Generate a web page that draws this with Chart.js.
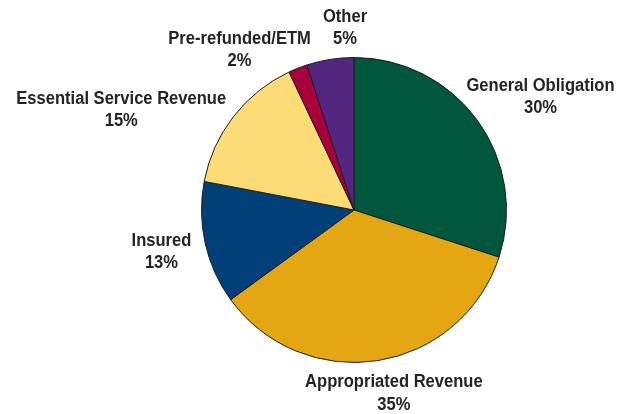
<!DOCTYPE html>
<html>
<head>
<meta charset="utf-8">
<script src="https://cdn.jsdelivr.net/npm/chart.js@4/dist/chart.umd.min.js"></script>
<style>
  html, body { margin: 0; padding: 0; background: #fff; }
  #wrap { position: relative; width: 629px; height: 414px; }
</style>
</head>
<body>
<div id="wrap"><canvas id="pie"></canvas></div>
<script>
// Portfolio composition by sector, clockwise from 12 o'clock.
const sectors = ['General Obligation', 'Appropriated Revenue', 'Insured',
  'Essential Service Revenue', 'Pre-refunded/ETM', 'Other'];
const shares = [30, 35, 13, 15, 2, 5];
const sliceColors = ['#00573c', '#e5a614', '#003f78', '#fddc77', '#a8003a', '#52257f'];

// Label placement: distance from centre (px) and angle nudge (deg) per slice.
const labelDist = [219.2, 185.8, 196.7, 254.2, 198.5, 184.2];
const labelTurn = [4.3, -3.4, 0.8, -14.1, -13.6, 6.2];

const FONT = 'bold 18px "Liberation Sans", Arial, sans-serif';
const SQUEEZE = 0.92; // narrow the face horizontally for a condensed look
const HALF_LINE = 11.15;
const DROP = 2; // 'middle' baseline sits a little above the cap centre

const sliceLabels = {
  id: 'sliceLabels',
  afterDatasetsDraw(chart) {
    const { ctx } = chart;
    const arcs = chart.getDatasetMeta(0).data;
    arcs.forEach((arc, i) => {
      const mid = (arc.startAngle + arc.endAngle) / 2 + labelTurn[i] * Math.PI / 180;
      const x = arc.x + Math.cos(mid) * labelDist[i];
      const y = arc.y + Math.sin(mid) * labelDist[i] + DROP;
      ctx.save();
      ctx.translate(x, y);
      ctx.scale(SQUEEZE, 1);
      ctx.font = FONT;
      ctx.fillStyle = '#262324';
      ctx.textAlign = 'center';
      ctx.textBaseline = 'middle';
      ctx.fillText(sectors[i], 0, -HALF_LINE);
      ctx.fillText(`${shares[i]}%`, 0, HALF_LINE);
      ctx.restore();
    });
  },
};

new Chart(document.getElementById('pie'), {
  type: 'pie',
  data: {
    labels: sectors,
    datasets: [{
      data: shares,
      backgroundColor: sliceColors,
      borderColor: '#1e1e1e',
      borderWidth: 1,
    }],
  },
  options: {
    responsive: true,
    maintainAspectRatio: false,
    animation: false,
    layout: { padding: { top: 57, bottom: 51, left: 201, right: 122 } },
    plugins: {
      legend: { display: false },
      tooltip: { enabled: false },
    },
  },
  plugins: [sliceLabels],
});
</script>
</body>
</html>
